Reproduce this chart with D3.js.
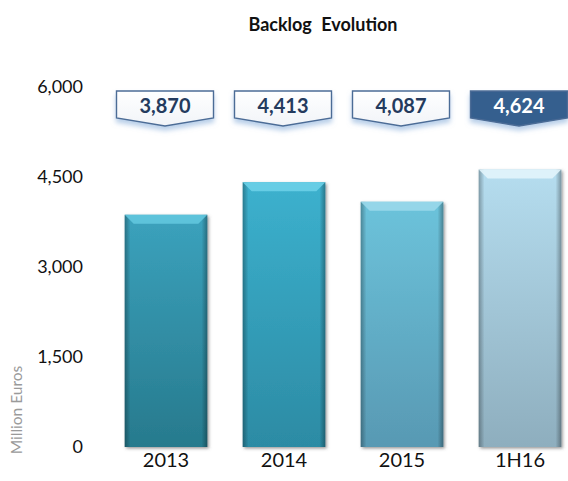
<!DOCTYPE html>
<html>
<head>
<meta charset="utf-8">
<script src="https://cdn.jsdelivr.net/npm/d3@7"></script>
<style>
  html, body { margin: 0; padding: 0; background: #fff; }
  svg { display: block; font-family: Lato, "Open Sans", sans-serif; }
</style>
</head>
<body>
<svg id="chart" width="568" height="481"></svg>
<script>
// Backlog by period (million euros)
const categories = ["2013", "2014", "2015", "1H16"];
const backlog = [3870, 4413, 4087, 4624];
const yTicks = [0, 1500, 3000, 4500, 6000];
const barTop = ["#3ba2bd", "#3cb1ce", "#6cc3db", "#b5ddef"];
const barBottom = ["#277a8d", "#2c8ba4", "#5899b3", "#8eaebe"];
const barBevel = ["#62c6de", "#6cd0e8", "#9ad8ea", "#e2f4fb"];

const svg = d3.select("#chart");
const fmt = d3.format(",");

const x = d3.scaleBand().domain(categories).range([107, 579])
  .paddingInner(0.3).paddingOuter(0.15);
const y = d3.scaleLinear().domain([0, 6000]).range([447, 87]);

const defs = svg.append("defs");
const shadow = defs.append("filter").attr("id", "shadow")
  .attr("x", "-20%").attr("y", "-20%").attr("width", "140%").attr("height", "140%");
shadow.append("feDropShadow").attr("dx", 1.5).attr("dy", 1.5)
  .attr("stdDeviation", 1.6).attr("flood-color", "#555").attr("flood-opacity", 0.6);

const glow = defs.append("filter").attr("id", "glow")
  .attr("x", "-20%").attr("y", "-30%").attr("width", "140%").attr("height", "180%");
glow.append("feDropShadow").attr("dx", 0).attr("dy", 4)
  .attr("stdDeviation", 2.5).attr("flood-color", "#7fa8d8").attr("flood-opacity", 0.55);

categories.forEach((c, i) => {
  const g = defs.append("linearGradient").attr("id", "bar" + i)
    .attr("x1", 0).attr("y1", 0).attr("x2", 0).attr("y2", 1);
  g.append("stop").attr("offset", "0%").attr("stop-color", barTop[i]);
  g.append("stop").attr("offset", "100%").attr("stop-color", barBottom[i]);
});
const side = defs.append("linearGradient").attr("id", "sides")
  .attr("x1", 0).attr("y1", 0).attr("x2", 1).attr("y2", 0);
side.append("stop").attr("offset", "0%").attr("stop-color", "#000").attr("stop-opacity", 0.3);
side.append("stop").attr("offset", "7%").attr("stop-color", "#000").attr("stop-opacity", 0.0);
side.append("stop").attr("offset", "93%").attr("stop-color", "#000").attr("stop-opacity", 0.0);
side.append("stop").attr("offset", "100%").attr("stop-color", "#000").attr("stop-opacity", 0.32);

const boxGrad = defs.append("linearGradient").attr("id", "boxfill")
  .attr("x1", 0).attr("y1", 0).attr("x2", 0).attr("y2", 1);
boxGrad.append("stop").attr("offset", "0%").attr("stop-color", "#ffffff");
boxGrad.append("stop").attr("offset", "100%").attr("stop-color", "#f1f4f8");

// Title
svg.append("text").attr("x", 323).attr("y", 31).attr("text-anchor", "middle")
  .attr("font-weight", "bold").attr("font-size", 18).attr("fill", "#111")
  .attr("word-spacing", 5).text("Backlog Evolution");

// Y axis labels (no line, no ticks)
const yAxis = d3.axisLeft(y).tickValues(yTicks).tickFormat(fmt).tickSize(0).tickPadding(0);
const yg = svg.append("g").attr("transform", "translate(83,0)").call(yAxis);
yg.select(".domain").remove();
yg.selectAll("text").attr("font-size", 18).attr("fill", "#111")
  .attr("font-family", "Lato, sans-serif");

// X axis labels
const xAxis = d3.axisBottom(x).tickSize(0).tickPadding(0);
const xg = svg.append("g").attr("transform", "translate(0,453)").call(xAxis);
xg.select(".domain").remove();
xg.selectAll("text").attr("font-size", 20).attr("fill", "#111")
  .attr("font-family", "Lato, sans-serif");

// Axis title
svg.append("text").attr("transform", "translate(22,410) rotate(-90)")
  .attr("text-anchor", "middle").attr("font-size", 15.5).attr("fill", "#9a9a9a")
  .text("Million Euros");

// Bars with bevelled top
const bars = svg.append("g").selectAll("g").data(backlog).join("g");
bars.append("rect")
  .attr("x", (d, i) => x(categories[i])).attr("y", d => y(d))
  .attr("width", x.bandwidth()).attr("height", d => y(0) - y(d))
  .attr("fill", (d, i) => `url(#bar${i})`).attr("filter", "url(#shadow)");
bars.append("rect")
  .attr("x", (d, i) => x(categories[i])).attr("y", d => y(d))
  .attr("width", x.bandwidth()).attr("height", d => y(0) - y(d))
  .attr("fill", "url(#sides)");
bars.append("path")
  .attr("d", (d, i) => {
    const x0 = x(categories[i]), x1 = x0 + x.bandwidth(), t = y(d), b = 9;
    return `M${x0},${t}L${x1},${t}L${x1 - b},${t + b}L${x0 + b},${t + b}Z`;
  })
  .attr("fill", (d, i) => barBevel[i]).attr("opacity", 0.9);

// Value callouts
const boxW = 97, boxTop = 91, boxSide = 118, boxTip = 126;
const callouts = svg.append("g").selectAll("g").data(backlog).join("g")
  .attr("transform", (d, i) => `translate(${x(categories[i]) + x.bandwidth() / 2 - 1},0)`);
callouts.append("path")
  .attr("d", `M${-boxW / 2},${boxTop}L${boxW / 2},${boxTop}L${boxW / 2},${boxSide}L0,${boxTip}L${-boxW / 2},${boxSide}Z`)
  .attr("fill", (d, i) => i === backlog.length - 1 ? "#365f8e" : "url(#boxfill)")
  .attr("stroke", "#4c6c96").attr("stroke-width", 1.4)
  .attr("filter", "url(#glow)");
callouts.append("text")
  .attr("y", 113).attr("text-anchor", "middle")
  .attr("font-weight", "bold").attr("font-size", 20)
  .attr("fill", (d, i) => i === backlog.length - 1 ? "#ffffff" : "#243b5e")
  .text(d => fmt(d));
</script>
</body>
</html>
